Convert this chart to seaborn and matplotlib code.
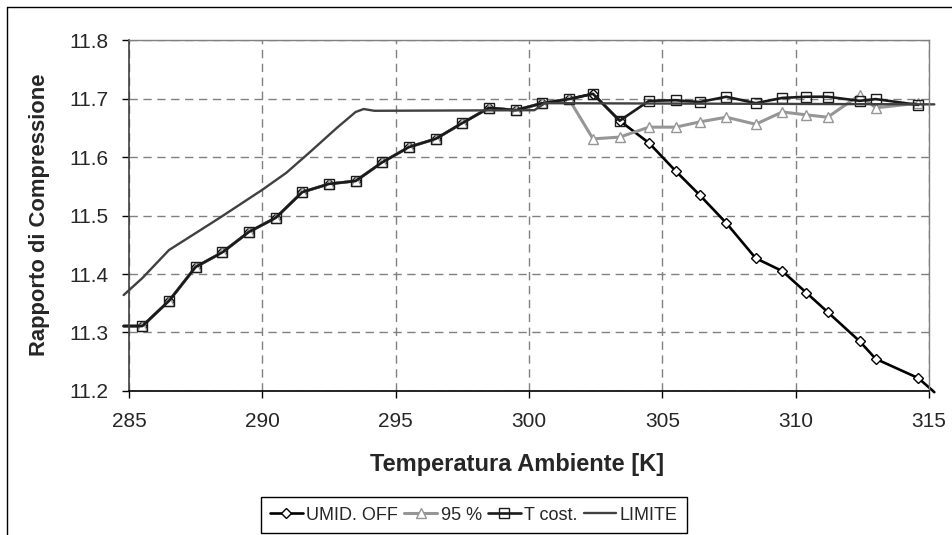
import matplotlib
matplotlib.use("Agg")
import matplotlib.pyplot as plt
import seaborn as sns
from matplotlib.lines import Line2D

# temperature of the marked points (first value sits just left of the axis)
temp_k = [284.8, 285.5, 286.5, 287.5, 288.5, 289.5, 290.5, 291.5, 292.5, 293.5,
          294.5, 295.5, 296.5, 297.5, 298.5, 299.5, 300.5, 301.5, 302.4, 303.4,
          304.5, 305.5, 306.4, 307.4, 308.5, 309.5, 310.4, 311.2, 312.4, 313.0,
          314.6]

umid_off = [11.311, 11.311, 11.354, 11.412, 11.437, 11.472, 11.496, 11.540, 11.554, 11.559,
            11.591, 11.617, 11.631, 11.658, 11.684, 11.680, 11.692, 11.699, 11.708, 11.662,
            11.624, 11.576, 11.535, 11.487, 11.427, 11.405, 11.368, 11.335, 11.285, 11.255,
            11.222]
umid_tail_t = [315.2]
umid_tail = [11.198]

rh95 = [11.311, 11.311, 11.354, 11.412, 11.437, 11.472, 11.496, 11.540, 11.554, 11.559,
        11.591, 11.617, 11.631, 11.658, 11.684, 11.680, 11.692, 11.699, 11.631, 11.634,
        11.651, 11.651, 11.660, 11.668, 11.656, 11.677, 11.672, 11.668, 11.706, 11.684,
        11.692]

t_cost = [11.311, 11.311, 11.354, 11.412, 11.437, 11.472, 11.496, 11.540, 11.554, 11.559,
          11.591, 11.617, 11.631, 11.658, 11.684, 11.680, 11.692, 11.699, 11.708, 11.662,
          11.696, 11.697, 11.694, 11.703, 11.692, 11.701, 11.703, 11.703, 11.696, 11.699,
          11.689]

limite_t = [284.8, 285.5, 286.5, 287.4, 288.4, 290.0, 290.9, 291.8, 292.8, 293.5,
            293.8, 294.2, 300.2, 300.6, 315.2]
limite = [11.364, 11.393, 11.441, 11.467, 11.496, 11.544, 11.573, 11.609, 11.650, 11.677,
          11.682, 11.679, 11.680, 11.692, 11.690]

sns.set_style("white")
plt.rcParams["font.family"] = ["Liberation Sans", "DejaVu Sans"]

W, H = 953, 535
fig = plt.figure(figsize=(W / 100, H / 100), dpi=100)
ax = fig.add_axes([129 / W, 1 - 391 / H, 800 / W, 351 / H])

marks = list(range(1, len(temp_k)))

sns.lineplot(x=temp_k + umid_tail_t, y=umid_off + umid_tail, ax=ax, sort=False,
             color="black", lw=1.9, marker="D", markersize=5.5, markerfacecolor="white",
             markeredgecolor="black", markeredgewidth=1, markevery=marks,
             label="UMID. OFF", clip_on=False)
sns.lineplot(x=temp_k, y=rh95, ax=ax, sort=False,
             color="#969696", lw=2.2, marker="^", markersize=7.5, markerfacecolor="white",
             markeredgecolor="#969696", markeredgewidth=1, markevery=marks,
             label="95 %", clip_on=False)
sns.lineplot(x=temp_k, y=t_cost, ax=ax, sort=False,
             color="#1a1a1a", lw=1.9, marker="s", markersize=6.5, markerfacecolor="none",
             markeredgecolor="#1a1a1a", markeredgewidth=1, markevery=marks,
             label="T cost.", clip_on=False)
sns.lineplot(x=limite_t, y=limite, ax=ax, sort=False,
             color="#404040", lw=1.7, label="LIMITE", clip_on=False)

ax.set_xlim(285, 315)
ax.set_ylim(11.2, 11.8)
ax.set_xticks(range(285, 316, 5))
ax.set_yticks([11.2, 11.3, 11.4, 11.5, 11.6, 11.7, 11.8])
ax.set_yticklabels(["11.2", "11.3", "11.4", "11.5", "11.6", "11.7", "11.8"])

ax.set_axisbelow(True)
ax.grid(True, color="#808080", linestyle=(0, (6, 4)), linewidth=1)
for side in ["top", "right"]:
    ax.spines[side].set_color("#808080")
    ax.spines[side].set_linewidth(1)
ax.spines["left"].set_color("#404040")
ax.spines["bottom"].set_color("black")
ax.spines["left"].set_linewidth(1.2)
ax.spines["bottom"].set_linewidth(1.2)

ax.tick_params(axis="both", direction="out", length=5, width=1, labelsize=15,
               color="black", bottom=True, left=True)
ax.tick_params(axis="x", pad=10)
ax.tick_params(axis="y", pad=10)

ax.set_xlabel("")
ax.set_ylabel("")
fig.text(517 / W, 1 - 465 / H, "Temperatura Ambiente [K]", ha="center", va="center",
         fontsize=17, fontweight="bold")
fig.text(40 / W, 1 - 215 / H, "Rapporto di Compressione", ha="center", va="center",
         rotation=90, fontsize=15.8, fontweight="bold")

handles, labels = ax.get_legend_handles_labels()
leg = ax.legend(handles, labels, loc="center", bbox_to_anchor=(474 / W, 1 - 515 / H),
                bbox_transform=fig.transFigure, ncol=4, frameon=True, fancybox=False,
                edgecolor="black", framealpha=1, handlelength=1.8, handletextpad=0.2,
                columnspacing=0.35, borderpad=0.5, fontsize=13, numpoints=1)
leg.get_frame().set_linewidth(1)

# chart area border (left and top visible)
fig.add_artist(Line2D([7 / W, 7 / W], [0, 1 - 7 / H], transform=fig.transFigure,
                      color="black", lw=1))
fig.add_artist(Line2D([7 / W, 1], [1 - 7 / H, 1 - 7 / H], transform=fig.transFigure,
                      color="black", lw=1))

fig.savefig("out.png", dpi=100)
